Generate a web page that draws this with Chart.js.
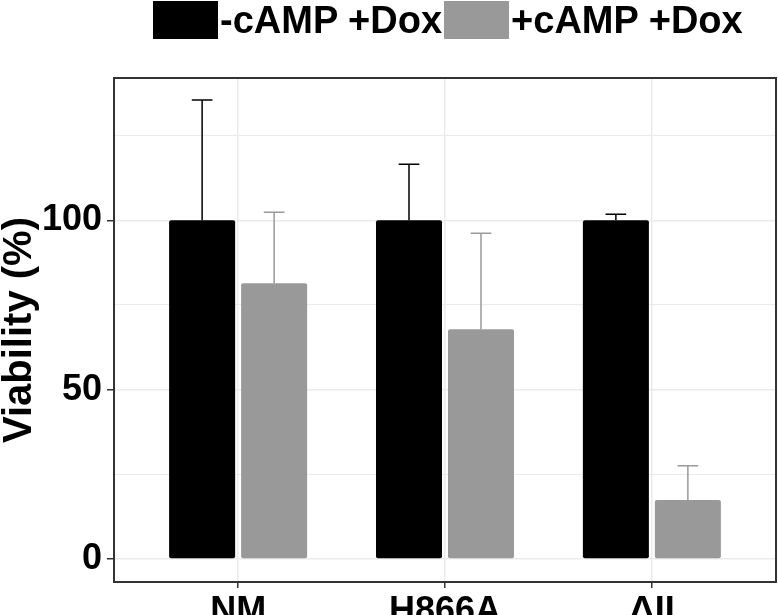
<!DOCTYPE html>
<html>
<head>
<meta charset="utf-8">
<script src="https://cdn.jsdelivr.net/npm/chart.js@4.4.1/dist/chart.umd.min.js"></script>
<style>
  html, body { margin: 0; padding: 0; background: #fff; }
  #wrap { position: relative; width: 778px; height: 615px; overflow: hidden; }
  #legend {
    position: absolute; top: 1px; left: 153px;
    display: flex; align-items: center; gap: 2px;
    font: bold 38px "Liberation Sans", Arial, sans-serif; line-height: 38px;
    white-space: nowrap;
  }
  .sw { width: 65px; height: 38px; }
</style>
</head>
<body>
<div id="wrap">
  <canvas id="chart" width="778" height="615"></canvas>
  <div id="legend"></div>
</div>
<script>
const categories = ['NM', 'H866A', 'ΔII'];
const seriesLabels = ['-cAMP +Dox', '+cAMP +Dox'];
const minusCamp = [100, 100, 100];
const minusCampErr = [35.5, 16.5, 1.8];
const plusCamp = [81.4, 67.8, 17.4];
const plusCampErr = [21.0, 28.4, 10.1];
const yTicks = [0, 25, 50, 75, 100, 125];
const yLabels = [0, 50, 100];

const colors = ['#000000', '#999999'];

// 막대 위 오차 막대
const errorBars = {
  id: 'errorBars',
  afterDatasetsDraw(chart) {
    const { ctx, scales: { x, y } } = chart;
    const capHalf = x.getPixelForValue(0.05) - x.getPixelForValue(0);
    chart.data.datasets.forEach((ds, i) => {
      const meta = chart.getDatasetMeta(i);
      meta.data.forEach((bar, j) => {
        const v = ds.data[j].y;
        const top = y.getPixelForValue(v + ds.errors[j]);
        ctx.save();
        ctx.strokeStyle = ds.backgroundColor;
        ctx.lineWidth = 1.5;
        ctx.beginPath();
        ctx.moveTo(bar.x, bar.y);
        ctx.lineTo(bar.x, top);
        ctx.moveTo(bar.x - capHalf, top);
        ctx.lineTo(bar.x + capHalf, top);
        ctx.stroke();
        ctx.restore();
      });
    });
  }
};

// 패널 테두리
const frame = {
  id: 'frame',
  afterDraw(chart) {
    const { ctx, chartArea: a } = chart;
    ctx.save();
    ctx.strokeStyle = '#333333';
    ctx.lineWidth = 2;
    ctx.strokeRect(a.left, a.top, a.right - a.left, a.bottom - a.top);
    ctx.restore();
  }
};

const toPoints = arr => arr.map((v, i) => ({ x: i, y: v }));

const datasets = [
  { label: seriesLabels[0], data: toPoints(minusCamp), errors: minusCampErr, backgroundColor: colors[0] },
  { label: seriesLabels[1], data: toPoints(plusCamp), errors: plusCampErr, backgroundColor: colors[1] }
].map(ds => Object.assign(ds, {
  borderRadius: 2,
  borderSkipped: false,
  categoryPercentage: 0.696,
  barPercentage: 0.917
}));

new Chart(document.getElementById('chart'), {
  type: 'bar',
  data: { datasets },
  options: {
    responsive: false,
    animation: false,
    layout: { padding: { top: 78, right: 2, left: 0, bottom: 0 } },
    plugins: { legend: { display: false }, tooltip: { enabled: false } },
    scales: {
      x: {
        type: 'linear',
        min: -0.6,
        max: 2.6,
        offset: false,
        afterBuildTicks: scale => { scale.ticks = categories.map((c, i) => ({ value: i })); },
        afterFit: scale => { scale.height = 33; },
        border: { display: false },
        grid: { offset: false, color: '#ebebeb', lineWidth: 1.5, tickColor: '#333333', tickLength: 6 },
        ticks: {
          autoSkip: false,
          maxRotation: 0,
          padding: 2,
          color: '#000',
          font: { family: '"Liberation Sans", Arial, sans-serif', size: 36, weight: 'bold' },
          callback: v => categories[v]
        }
      },
      y: {
        min: -6.8,
        max: 142,
        afterBuildTicks: scale => { scale.ticks = yTicks.map(v => ({ value: v })); },
        afterFit: scale => { scale.width = 114; },
        border: { display: false },
        grid: {
          color: '#ebebeb',
          lineWidth: c => (yLabels.includes(c.tick && c.tick.value) ? 1.5 : 1),
          tickColor: c => (yLabels.includes(c.tick && c.tick.value) ? '#333333' : 'rgba(0,0,0,0)'),
          tickLength: 7
        },
        ticks: {
          padding: 5,
          color: '#000',
          font: { family: '"Liberation Sans", Arial, sans-serif', size: 36, weight: 'bold' },
          callback: v => (yLabels.includes(v) ? v : '')
        },
        title: {
          display: true,
          text: 'Viability (%)',
          color: '#000',
          padding: 0,
          font: { family: '"Liberation Sans", Arial, sans-serif', size: 40, weight: 'bold', lineHeight: 1 }
        }
      }
    }
  },
  plugins: [errorBars, frame]
});

// 범례
const legend = document.getElementById('legend');
datasets.forEach(ds => {
  const sw = document.createElement('div');
  sw.className = 'sw';
  sw.style.background = ds.backgroundColor;
  const label = document.createElement('span');
  label.textContent = ds.label;
  legend.appendChild(sw);
  legend.appendChild(label);
});
</script>
</body>
</html>
